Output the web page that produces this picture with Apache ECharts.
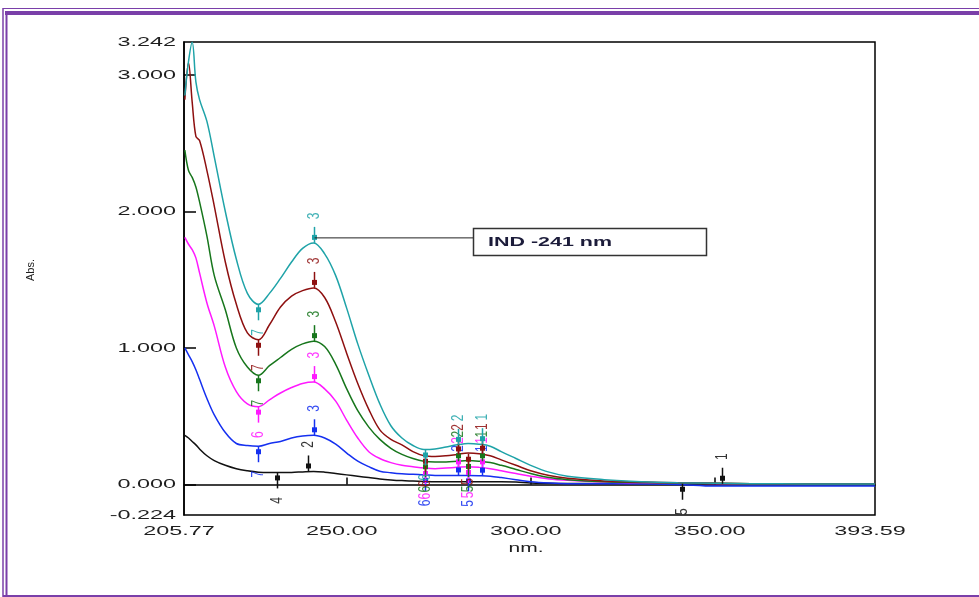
<!DOCTYPE html>
<html>
<head>
<meta charset="utf-8">
<script src="https://cdn.jsdelivr.net/npm/echarts@6/dist/echarts.min.js"></script>
<style>
  html, body { margin: 0; padding: 0; background: #fff; }
  #main { width: 979px; height: 597px; }
</style>
</head>
<body>
<div id="main"></div>
<script>
// wavelength grid (nm) shared by all spectra
var wavelengths = [206, 207, 208, 209, 210, 212, 214, 217, 220, 223, 226, 229, 232, 235, 238, 241, 244, 247, 250, 253,
  256, 259, 262, 265, 268, 271, 274, 277, 280, 283, 286, 289, 292, 296, 300, 305, 310, 320, 330, 340, 350, 360, 375, 393.59];

var absTeal = [2.85, 3.10, 3.24, 2.95, 2.82, 2.66, 2.40, 2.00, 1.65, 1.40, 1.32, 1.40, 1.51, 1.63, 1.73, 1.77, 1.69, 1.53, 1.29, 1.03,
  0.80, 0.59, 0.43, 0.34, 0.285, 0.256, 0.26, 0.275, 0.29, 0.30, 0.295, 0.28, 0.24, 0.19, 0.14, 0.09, 0.06, 0.035, 0.02, 0.012, 0.008, 0.005, 0.004, 0.003];
var absRed = [2.82, 3.09, 2.80, 2.55, 2.52, 2.30, 2.04, 1.63, 1.32, 1.11, 1.06, 1.17, 1.30, 1.38, 1.42, 1.44, 1.37, 1.19, 0.96, 0.74,
  0.55, 0.40, 0.33, 0.29, 0.24, 0.21, 0.205, 0.21, 0.22, 0.23, 0.225, 0.21, 0.18, 0.14, 0.10, 0.065, 0.045, 0.025, 0.018, 0.012, 0.008, 0.005, 0.004, 0.003];
var absGreen = [2.45, 2.30, 2.25, 2.18, 2.07, 1.82, 1.53, 1.28, 1.00, 0.86, 0.80, 0.87, 0.93, 0.99, 1.03, 1.05, 1.01, 0.88, 0.70, 0.54,
  0.42, 0.33, 0.265, 0.22, 0.19, 0.17, 0.165, 0.165, 0.17, 0.175, 0.17, 0.16, 0.14, 0.11, 0.08, 0.05, 0.035, 0.02, 0.015, 0.01, 0.008, 0.005, 0.004, 0.003];
var absPink = [1.81, 1.76, 1.72, 1.66, 1.55, 1.33, 1.16, 0.86, 0.68, 0.59, 0.57, 0.62, 0.67, 0.71, 0.74, 0.75, 0.70, 0.61, 0.47, 0.34,
  0.24, 0.19, 0.16, 0.14, 0.13, 0.12, 0.115, 0.12, 0.125, 0.13, 0.125, 0.115, 0.10, 0.08, 0.06, 0.04, 0.03, 0.018, 0.012, 0.01, 0.007, 0.005, 0.004, 0.003];
var absBlue = [1.00, 0.95, 0.90, 0.84, 0.77, 0.63, 0.51, 0.38, 0.30, 0.285, 0.28, 0.30, 0.315, 0.34, 0.355, 0.36, 0.34, 0.295, 0.23, 0.17,
  0.13, 0.097, 0.086, 0.078, 0.074, 0.07, 0.066, 0.066, 0.066, 0.066, 0.064, 0.06, 0.05, 0.035, 0.02, 0.01, 0.005, 0.005, 0.004, 0.0, -0.012, -0.012, -0.012, -0.012];
var absBlack = [0.36, 0.34, 0.315, 0.29, 0.26, 0.21, 0.175, 0.14, 0.115, 0.10, 0.09, 0.088, 0.088, 0.088, 0.092, 0.095, 0.09, 0.08, 0.07, 0.06,
  0.05, 0.04, 0.033, 0.028, 0.025, 0.022, 0.02, 0.02, 0.02, 0.02, 0.02, 0.02, 0.02, 0.018, 0.01, 0.008, 0.007, 0.007, 0.006, 0.005, 0.005, 0.004, 0.003, 0.003];

// peak / valley picks (1 = peak, -1 = valley)
var pickWl = [241, 226, 271.3, 280.3, 283, 286.8];
var pickKind = [1, -1, -1, 1, -1, 1];
var pickTeal = [1.77, 1.32, 0.256, 0.29, null, 0.295];
var pickRed = [1.44, 1.06, 0.21, 0.22, 0.225, 0.225];
var pickGreen = [1.05, 0.80, 0.17, 0.17, 0.172, 0.17];
var pickPink = [0.75, 0.57, 0.12, 0.125, 0.128, 0.125];
var pickBlue = [0.36, 0.28, 0.07, 0.066, 0.066, 0.064];
var pickLabels = ['3', '7', '6', '2', '5', '1'];
var pinkLabels = ['3', '6', '6', '2', '5', '1'];
var blackPickWl = [239.5, 231, 352, 341.2];
var blackPickKind = [1, -1, 1, -1];
var blackPickVal = [0.095, 0.088, 0.005, 0.005];
var blackPickLabels = ['2', '4', '1', '5'];

var yLabels = [-0.224, 0, 1, 2, 3, 3.242];
var xLabels = [205.77, 250, 300, 350, 393.59];

var FONT = '"Liberation Sans", Arial, sans-serif';
var TXT = '#1e1e1e';
var STRETCH = 1.8;   // the reference text is drawn wide

function pairs(vals) {
  return wavelengths.map(function (w, i) { return [w, vals[i]]; });
}

function pickSeries(color, wl, kinds, vals, labels) {
  var list = [];
  for (var i = 0; i < wl.length; i++) {
    if (vals[i] == null) continue;
    list.push({ wl: wl[i], v: vals[i], k: kinds[i], t: labels[i] });
  }
  return {
    type: 'custom',
    z: 5,
    silent: true,
    data: list.map(function (p) { return [p.wl, p.v]; }),
    renderItem: function (params, api) {
      var p = list[params.dataIndex];
      var pt = api.coord([api.value(0), api.value(1)]);
      var x = Math.round(pt[0]) + 0.5;
      var y = pt[1];
      var up = p.k > 0;
      return {
        type: 'group',
        children: [
          { type: 'line', shape: { x1: x, y1: up ? y - 16 : y, x2: x, y2: up ? y : y + 16 },
            style: { stroke: color, lineWidth: 1.5 } },
          { type: 'rect', shape: { x: x - 2.5, y: up ? y - 8 : y + 3, width: 5, height: 5 },
            style: { fill: color } },
          { type: 'text', x: x, y: up ? y - 27 : y + 28, rotation: Math.PI / 2, scaleY: 1.3,
            style: { text: p.t, fill: color, opacity: 0.85, font: '12px ' + FONT, align: 'center', verticalAlign: 'middle' } }
        ]
      };
    }
  };
}

function lineSeries(name, color, vals) {
  return {
    name: name,
    type: 'line',
    data: pairs(vals),
    smooth: 0.35,
    showSymbol: false,
    silent: true,
    lineStyle: { color: color, width: 1.5 },
    z: 3
  };
}

var C = { teal: '#1fa3a8', red: '#8e1010', green: '#17761c', pink: '#ff19ff', blue: '#1530f0', black: '#111111' };

var chart = echarts.init(document.getElementById('main'));
var option = {
  animation: false,
  backgroundColor: '#fff',
  grid: { left: 184, right: 104, top: 42, bottom: 82, show: true, borderColor: '#000', borderWidth: 1.5 },
  xAxis: {
    type: 'value', min: 205.77, max: 393.59,
    axisLine: { lineStyle: { color: '#000', width: 1.5 } },
    axisTick: { inside: true, length: 7, customValues: [250, 300, 350], lineStyle: { color: '#000', width: 1.5 } },
    axisLabel: { show: false },
    splitLine: { show: false }
  },
  yAxis: {
    type: 'value', min: -0.224, max: 3.242,
    axisLine: { lineStyle: { color: '#000', width: 1.5 } },
    axisTick: { inside: true, length: 12, customValues: [0, 1, 2, 3], lineStyle: { color: '#000', width: 1.5 } },
    axisLabel: { show: false },
    splitLine: { show: false }
  },
  series: [
    lineSeries('black', C.black, absBlack),
    lineSeries('blue', C.blue, absBlue),
    lineSeries('magenta', C.pink, absPink),
    lineSeries('green', C.green, absGreen),
    lineSeries('darkred', C.red, absRed),
    lineSeries('teal', C.teal, absTeal),
    pickSeries(C.black, blackPickWl, blackPickKind, blackPickVal, blackPickLabels),
    pickSeries(C.blue, pickWl, pickKind, pickBlue, pickLabels),
    pickSeries(C.pink, pickWl, pickKind, pickPink, pinkLabels),
    pickSeries(C.green, pickWl, pickKind, pickGreen, pickLabels),
    pickSeries(C.red, pickWl, pickKind, pickRed, pickLabels),
    pickSeries(C.teal, pickWl, pickKind, pickTeal, pickLabels)
  ]
};
chart.setOption(option);

// tick labels, axis names, annotation box and page frame (wide text like the instrument printout)
var g = [];
var bottomY = chart.convertToPixel({ yAxisIndex: 0 }, -0.224);
var leftX = chart.convertToPixel({ xAxisIndex: 0 }, 205.77);
yLabels.forEach(function (v) {
  g.push({ type: 'text', x: leftX - 8, y: chart.convertToPixel({ yAxisIndex: 0 }, v), scaleX: STRETCH,
    style: { text: v.toFixed(3), font: '13px ' + FONT, fill: TXT, align: 'right', verticalAlign: 'middle' } });
});
xLabels.forEach(function (v) {
  g.push({ type: 'text', x: chart.convertToPixel({ xAxisIndex: 0 }, v) - 5, y: bottomY + 16, scaleX: STRETCH,
    style: { text: v.toFixed(2), font: '13px ' + FONT, fill: TXT, align: 'center', verticalAlign: 'middle' } });
});
g.push({ type: 'text', x: 526, y: bottomY + 34, scaleX: 1.75,
  style: { text: 'nm.', font: '12px ' + FONT, fill: TXT, align: 'center', verticalAlign: 'middle' } });
g.push({ type: 'text', x: 31, y: 270, rotation: Math.PI / 2,
  style: { text: 'Abs.', font: '11px ' + FONT, fill: TXT, align: 'center', verticalAlign: 'middle' } });

var peak = chart.convertToPixel({ gridIndex: 0 }, [241, 1.77]);
g.push({ type: 'line', shape: { x1: peak[0] + 1, y1: peak[1] - 5, x2: 473, y2: peak[1] - 5 }, style: { stroke: '#222', lineWidth: 1 }, z: 10 });
g.push({ type: 'rect', shape: { x: 473.5, y: 228.5, width: 233, height: 27 }, style: { fill: '#fff', stroke: '#333', lineWidth: 1.5 }, z: 10 });
g.push({ type: 'text', x: 488, y: 242, scaleX: 1.65, z: 11,
  style: { text: 'IND -241 nm', font: 'bold 13px ' + FONT, fill: '#1c1c3a', verticalAlign: 'middle' } });

var purple = '#7a3fa9';
g.push({ type: 'line', shape: { x1: 3, y1: 8.5, x2: 979, y2: 8.5 }, style: { stroke: purple, lineWidth: 1 } });
g.push({ type: 'line', shape: { x1: 5, y1: 13, x2: 979, y2: 13 }, style: { stroke: purple, lineWidth: 4 } });
g.push({ type: 'line', shape: { x1: 3, y1: 8, x2: 3, y2: 597 }, style: { stroke: purple, lineWidth: 1.5 } });
g.push({ type: 'line', shape: { x1: 6.5, y1: 11, x2: 6.5, y2: 597 }, style: { stroke: purple, lineWidth: 2 } });
g.push({ type: 'line', shape: { x1: 3, y1: 596, x2: 979, y2: 596 }, style: { stroke: purple, lineWidth: 2 } });

chart.setOption({ graphic: g });
</script>
</body>
</html>
